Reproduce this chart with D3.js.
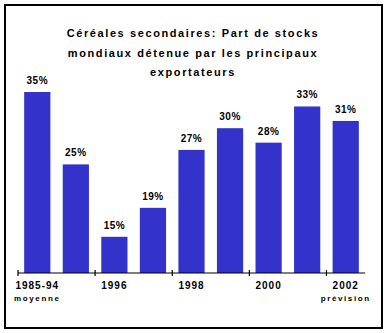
<!DOCTYPE html>
<html>
<head>
<meta charset="utf-8">
<script src="https://cdn.jsdelivr.net/npm/d3@7"></script>
<style>
  body { margin: 0; background: #fff; }
  text { font-family: Arial, "Liberation Sans", sans-serif; font-weight: bold; fill: #000; }
</style>
</head>
<body>
<div id="chart"></div>
<script>
var categories = ["1985-94", "1995", "1996", "1997", "1998", "1999", "2000", "2001", "2002"];
var values = [35, 25, 15, 19, 27, 30, 28, 33, 31];
var tickLabels = { "1985-94": "1985-94", "1996": "1996", "1998": "1998", "2000": "2000", "2002": "2002" };
var subLabels = { "1985-94": "moyenne", "2002": "prévision" };
var titleLines = ["Céréales secondaires: Part de stocks", "mondiaux détenue par les principaux", "exportateurs"];

var width = 387, height = 333;
var svg = d3.select("#chart").append("svg")
  .attr("width", width)
  .attr("height", height);

// outer frame
svg.append("rect")
  .attr("x", 5).attr("y", 5)
  .attr("width", 377).attr("height", 323)
  .attr("fill", "none")
  .attr("stroke", "#000")
  .attr("stroke-width", 2);

// title
svg.selectAll(".title")
  .data(titleLines)
  .enter().append("text")
  .attr("class", "title")
  .attr("x", 193)
  .attr("y", function(d, i) { return 37 + i * 19.5; })
  .attr("text-anchor", "middle")
  .style("font-size", "11px")
  .style("letter-spacing", "1.6px")
  .text(function(d) { return d; });

var x = d3.scaleBand()
  .domain(categories)
  .range([18, 365])
  .paddingInner(0.32)
  .paddingOuter(0.16);

var y = d3.scaleLinear()
  .domain([10, 35])
  .range([273, 92]);

svg.selectAll(".bar")
  .data(values)
  .enter().append("rect")
  .attr("class", "bar")
  .attr("x", function(d, i) { return x(categories[i]); })
  .attr("y", function(d) { return y(d); })
  .attr("width", x.bandwidth())
  .attr("height", function(d) { return y(10) - y(d); })
  .attr("fill", "#3333cc");

svg.selectAll(".val")
  .data(values)
  .enter().append("text")
  .attr("class", "val")
  .attr("x", function(d, i) { return x(categories[i]) + x.bandwidth() / 2; })
  .attr("y", function(d) { return y(d) - 8; })
  .attr("text-anchor", "middle")
  .style("font-size", "10px")
  .style("letter-spacing", "0.5px")
  .text(function(d) { return d + "%"; });

// axis line, ticks at the start of every other band
var axisY = y(10);
svg.append("line")
  .attr("x1", 18).attr("x2", 365)
  .attr("y1", axisY).attr("y2", axisY)
  .attr("stroke", "#000")
  .attr("stroke-width", 1.2);

var gap = (x.step() - x.bandwidth()) / 2;
var tickCats = categories.filter(function(d, i) { return i % 2 == 0; });
svg.selectAll(".tick")
  .data(tickCats)
  .enter().append("line")
  .attr("x1", function(d) { return x(d) - gap; })
  .attr("x2", function(d) { return x(d) - gap; })
  .attr("y1", axisY - 3).attr("y2", axisY + 3)
  .attr("stroke", "#000")
  .attr("stroke-width", 1.2);

svg.selectAll(".xlab")
  .data(tickCats)
  .enter().append("text")
  .attr("class", "xlab")
  .attr("x", function(d) { return x(d) + x.bandwidth() / 2; })
  .attr("y", 289)
  .attr("text-anchor", "middle")
  .style("font-size", "10px")
  .style("letter-spacing", "1px")
  .text(function(d) { return tickLabels[d]; });

svg.selectAll(".sublab")
  .data(Object.keys(subLabels))
  .enter().append("text")
  .attr("class", "sublab")
  .attr("x", function(d) { return x(d) + x.bandwidth() / 2; })
  .attr("y", 301)
  .attr("text-anchor", "middle")
  .style("font-size", "8px")
  .style("letter-spacing", "1.6px")
  .text(function(d) { return subLabels[d]; });
</script>
</body>
</html>
